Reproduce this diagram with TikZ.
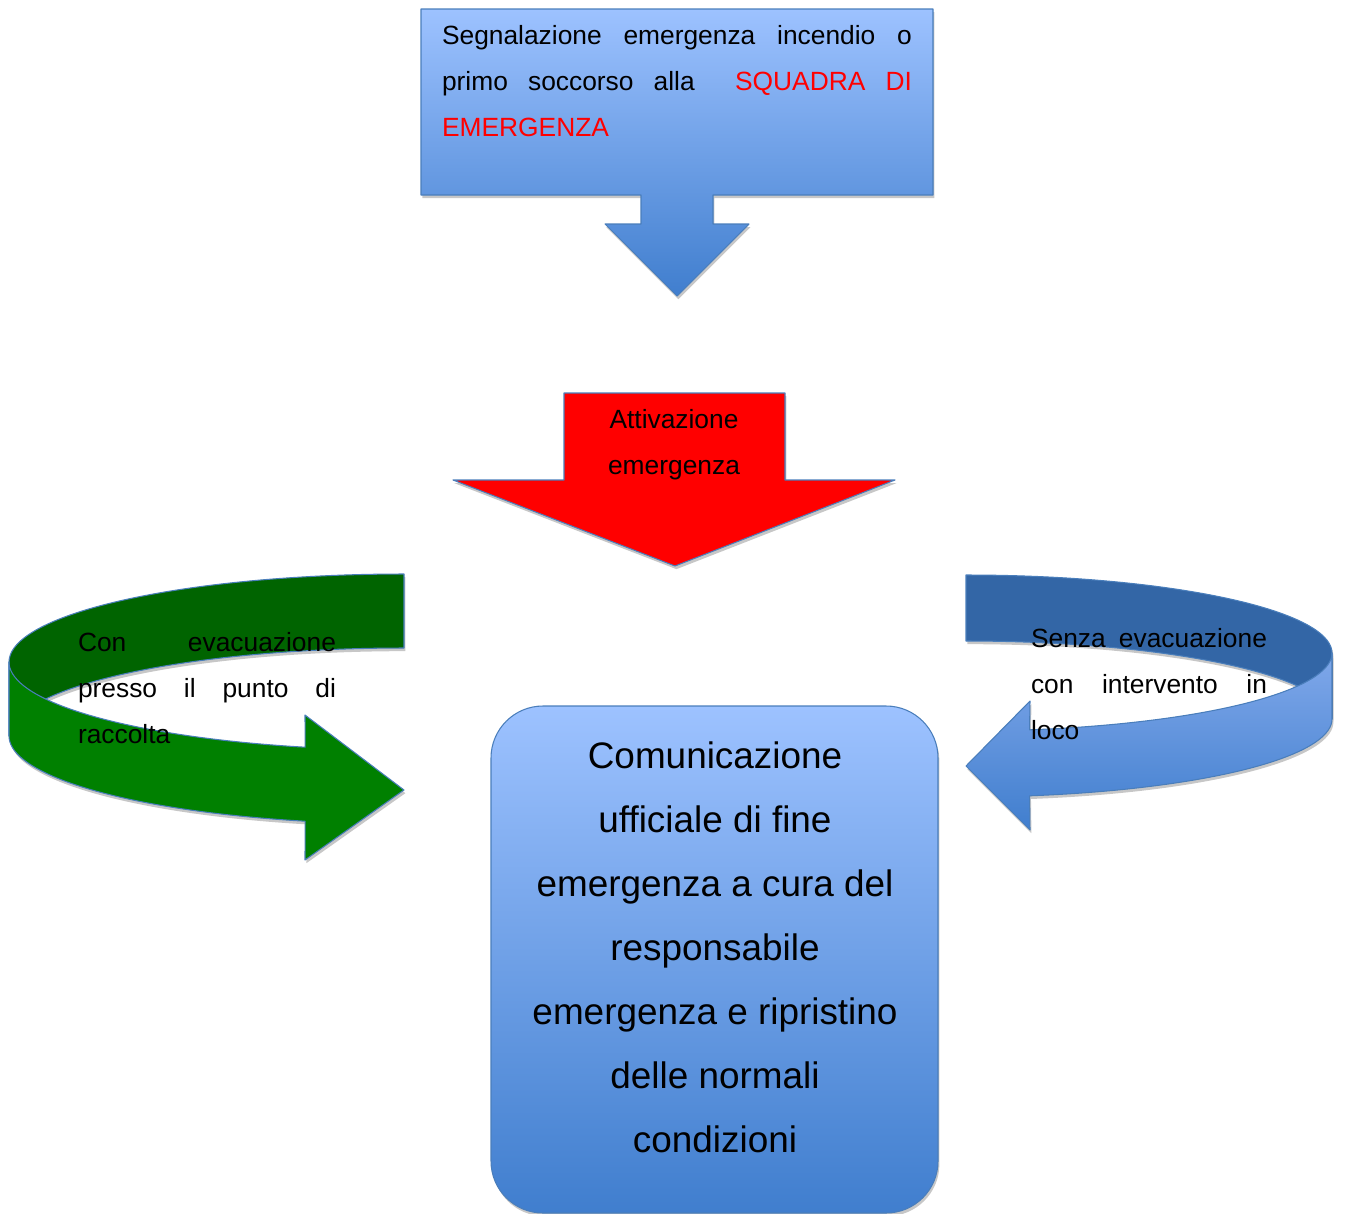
\documentclass[tikz,border=0pt]{standalone}
\usepackage{fontspec}
\setmainfont{Liberation Sans}
\usetikzlibrary{shadows}
\definecolor{lineblue}{RGB}{74,126,187}
\definecolor{lightblue}{RGB}{157,194,255}
\definecolor{deepblue}{RGB}{64,126,206}
\definecolor{darkgreen}{RGB}{0,100,0}
\definecolor{frontgreen}{RGB}{0,128,0}
\definecolor{backblue}{RGB}{51,102,166}
\definecolor{frontblue}{RGB}{128,168,234}
\newcommand{\spread}[2]{\makebox[#1][s]{#2}}

\begin{document}
\begin{tikzpicture}[x=0.02cm,y=-0.02cm]
\tikzstyle{every node}+=[inner sep=0pt]
\tikzstyle{shape line}=[draw=lineblue, line width=0.6pt, line join=round]
\tikzstyle{shadowed}=[drop shadow={shadow xshift=0.8pt, shadow yshift=-1.8pt, fill=black, opacity=.22}]
\tikzstyle{small text}=[font=\fontsize{15}{26.1}\selectfont]
\useasboundingbox (0,0) rectangle (1346,1214);
% callout at the top
\shade [shape line, shadowed, top color=lightblue, bottom color=deepblue] (421,9) -- (933,9) -- (933,195) -- (713,195) -- (713,224) -- (749,224) -- (677,296) -- (605,224) -- (641,224) -- (641,195) -- (421,195) -- cycle;
% red arrow
\draw [shape line, shadowed, fill=red] (564,393) -- (785,393) -- (785,480) -- (895,480) -- (675,566) -- (453,480) -- (564,480) -- cycle;
% final box
\shade [shape line, shadowed, rounded corners=1.04cm, top color=lightblue, bottom color=deepblue] (491,706) rectangle (938,1213);
% green u-turn, back then front
\draw [shape line, shadowed, fill=darkgreen] plot [domain=90:180, samples=40, smooth, variable=\t] ({404+395*cos(\t)},{662-88*sin(\t)}) -- plot [domain=180:90, samples=40, smooth, variable=\t] ({404+395*cos(\t)},{736-88*sin(\t)}) -- cycle;
\draw [shape line, shadowed, fill=frontgreen] plot [domain=180:255.5, samples=40, smooth, variable=\t] ({404+395*cos(\t)},{662-88*sin(\t)}) -- (305,715) -- (404,790) -- (305,860) -- plot [domain=255.5:180, samples=40, smooth, variable=\t] ({404+395*cos(\t)},{736-88*sin(\t)}) -- cycle;
% blue u-turn, back then front
\draw [shape line, shadowed, fill=backblue] plot [domain=90:180, samples=40, smooth, variable=\t] ({966-366*cos(\t)},{653-78*sin(\t)}) -- plot [domain=180:90, samples=40, smooth, variable=\t] ({966-366*cos(\t)},{719-78*sin(\t)}) -- cycle;
\shade [shape line, shadowed, top color=frontblue, bottom color=deepblue] plot [domain=180:260, samples=40, smooth, variable=\t] ({966-366*cos(\t)},{653-78*sin(\t)}) -- (1030,701) -- (966,766) -- (1030,830) -- plot [domain=260:180, samples=40, smooth, variable=\t] ({966-366*cos(\t)},{719-78*sin(\t)}) -- cycle;
% texts
\node (segnala) at (677,81) [small text, align=left] {\spread{9.4cm}{Segnalazione emergenza incendio o}\\\spread{9.4cm}{primo soccorso alla \ \textcolor{red}{SQUADRA DI}}\\\textcolor{red}{EMERGENZA}};
\node (attiva) at (674,445) [small text, align=center] {Attivazione\\emergenza};
\node (conevac) at (207,688) [small text, align=left] {\spread{5.16cm}{Con evacuazione}\\\spread{5.16cm}{presso il punto di}\\raccolta};
\node (senzaevac) at (1149,684) [small text, align=left] {\spread{4.72cm}{Senza evacuazione}\\\spread{4.72cm}{con intervento in}\\loco};
\node (fine) at (715,947) [font=\fontsize{21}{36.4}\selectfont, align=center] {Comunicazione\\ufficiale di fine\\emergenza a cura del\\responsabile\\emergenza e ripristino\\delle normali\\condizioni};
\end{tikzpicture}
\end{document}
